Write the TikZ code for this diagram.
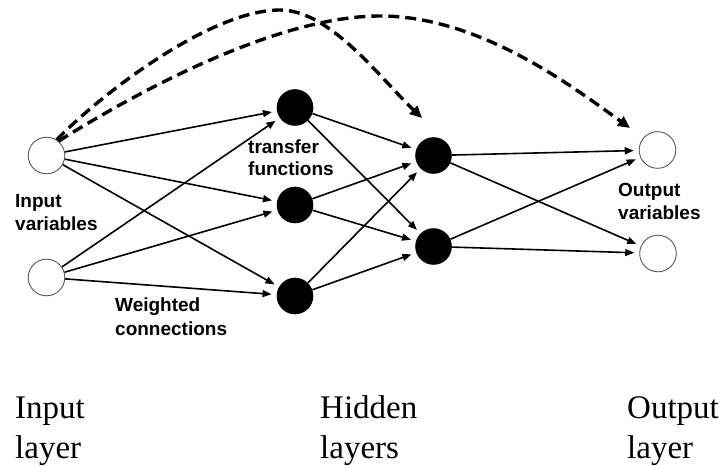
\documentclass[tikz,border=0pt]{standalone}
\usepackage{fontspec}
\setmainfont{Liberation Serif}
\newfontfamily\lblfont{Liberation Sans}
\usetikzlibrary{arrows.meta,calc}

\tikzset{
  unit/.style={circle, inner sep=0pt, minimum size=36.6pt},
  hiddenunit/.style={unit, fill=black},
  iounit/.style={unit, draw=black!65, line width=0.9pt, fill=white},
  link/.style={line width=1.6pt, -{Triangle[length=9pt,width=7pt]}, shorten >=5pt},
  skiplink/.style={line width=3.4pt, dash pattern=on 11pt off 6pt,
    -{Triangle[length=12pt,width=11pt]}},
  smalllabel/.style={font=\lblfont\bfseries\fontsize{19}{23}\selectfont,
    inner sep=0pt, anchor=base west},
  layerlabel/.style={font=\fontsize{33}{40}\selectfont,
    inner sep=0pt, anchor=base west}
}

\begin{document}
\begin{tikzpicture}[x=1pt, y=-1pt]
  \useasboundingbox[fill=white] (0,0) rectangle (724,468);

  % input layer
  \node[iounit] (in1) at (46.5,155.5) {};
  \node[iounit] (in2) at (46.5,277.5) {};
  % first hidden layer
  \node[hiddenunit] (h1a) at (295,107.5) {};
  \node[hiddenunit] (h1b) at (295,205) {};
  \node[hiddenunit] (h1c) at (295,296) {};
  % second hidden layer
  \node[hiddenunit] (h2a) at (433.5,155.5) {};
  \node[hiddenunit] (h2b) at (433.5,246.5) {};
  % output layer
  \node[iounit] (out1) at (657.5,150) {};
  \node[iounit] (out2) at (658,253.5) {};

  % weighted connections
  \foreach \s in {in1,in2}
    \foreach \t in {h1a,h1b,h1c}
      \draw[link] (\s) -- (\t);
  \foreach \s in {h1a,h1b,h1c}
    \foreach \t in {h2a,h2b}
      \draw[link] (\s) -- (\t);
  \foreach \s in {h2a,h2b}
    \foreach \t in {out1,out2}
      \draw[link] (\s) -- (\t);

  % skip connections from the first input
  \draw[skiplink] (in1.57) .. controls (100,95) and (210,10) .. (280,10)
    .. controls (330,10) and (379,77) .. ($(h2a)+(-11.5,-37.5)$);
  \draw[skiplink] (in1.50) .. controls (145,87) and (280,16) .. (380,16)
    .. controls (480,16) and (573,87) .. ($(out1)+(-27.5,-22)$);

  % labels
  \node[smalllabel] (tf1) at (248,154) {transfer};
  \node[smalllabel] (tf2) at (248,176) {functions};
  \node[smalllabel] (iv1) at (15,208) {Input};
  \node[smalllabel] (iv2) at (15,231) {variables};
  \node[smalllabel] (ov1) at (618,197) {Output};
  \node[smalllabel] (ov2) at (618,220) {variables};
  \node[smalllabel] (wc1) at (115,312) {Weighted};
  \node[smalllabel] (wc2) at (115,335) {connections};

  \node[layerlabel] (il1) at (15,418) {Input};
  \node[layerlabel] (il2) at (15,458) {layer};
  \node[layerlabel] (hl1) at (320,418) {Hidden};
  \node[layerlabel] (hl2) at (320,458) {layers};
  \node[layerlabel] (ol1) at (627,418) {Output};
  \node[layerlabel] (ol2) at (627,458) {layer};
\end{tikzpicture}
\end{document}
